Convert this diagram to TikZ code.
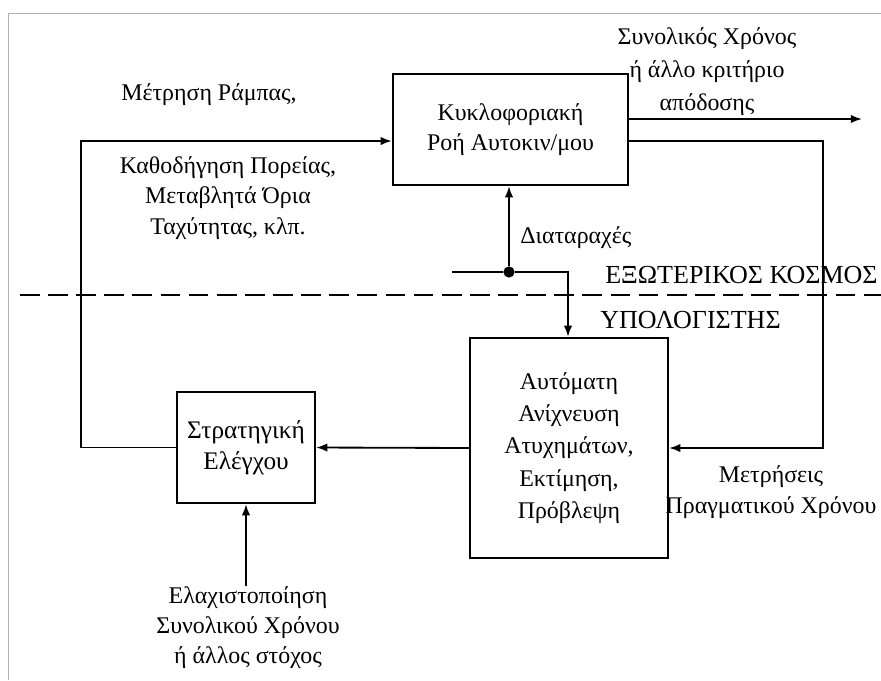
\documentclass[tikz,border=0pt]{standalone}
\usepackage{fontspec}
\setmainfont{Liberation Serif}
\usepackage{tikz}
\usetikzlibrary{arrows.meta,positioning,calc}
\tikzset{
    >={Latex[length=8pt,width=6pt]},
    box/.style={
        rectangle,
        draw, line width=1.6pt,
        align=center,
        inner sep=0pt
    },
    line/.style={draw, line width=1.3pt, ->},
    plain/.style={draw, line width=1.3pt},
    circ/.style={fill, circle, inner sep=0, minimum size=8pt},
    label/.style={inner sep=0pt, align=center},
    caps/.style={label, font={\fontsize{18.5}{22}\selectfont}},
    font={\fontsize{17}{21.5}\selectfont},
}

\begin{document}
\begin{tikzpicture}[x=0.025cm, y=-0.025cm]
        \useasboundingbox (0, 0) rectangle (881, 680);
        % thin frame of the screenshot
        \draw [black!30, line width=0.6pt] (8, 680) -- (8, 13) -- (881, 13);

        % blocks
        \node [box, minimum width=5.875cm, minimum height=2.775cm] (flow) at (510.5, 129.5)
            {Κυκλοφοριακή\\Ροή Αυτοκιν/μου};
        \node [box, minimum width=4.95cm, minimum height=5.5cm, font={\fontsize{17}{23}\selectfont}] (estim) at (569, 448)
            {Αυτόματη\\Ανίχνευση\\Ατυχημάτων,\\Εκτίμηση,\\Πρόβλεψη};
        \node [box, minimum width=3.45cm, minimum height=2.775cm, font={\fontsize{18}{22}\selectfont}] (strat) at (246, 447.5)
            {Στρατηγική\\Ελέγχου};

        % texts
        \node [label, anchor=west] (ramp) at (121, 95) {Μέτρηση Ράμπας,};
        \node [label] (guide) at (228, 198) {Καθοδήγηση Πορείας,\\Μεταβλητά Όρια\\Ταχύτητας, κλπ.};
        \node [label, font={\fontsize{17}{23.5}\selectfont}] (perf) at (707, 72) {Συνολικός Χρόνος\\ή άλλο κριτήριο\\απόδοσης};
        \node [label, anchor=west] (dist) at (520, 238) {Διαταραχές};
        \node [caps, anchor=west] (outside) at (605, 275) {ΕΞΩΤΕΡΙΚΟΣ ΚΟΣΜΟΣ};
        \node [caps, anchor=west] (comp) at (600, 320) {ΥΠΟΛΟΓΙΣΤΗΣ};
        \node [label] (meas) at (771, 492) {Μετρήσεις\\Πραγματικού Χρόνου};
        \node [label, anchor=north] (goal) at (248, 586) {Ελαχιστοποίηση\\Συνολικού Χρόνου\\ή άλλος στόχος};

        % corners and free ends
        \coordinate (out) at (862, 119);
        \coordinate (fb) at (823, 141);
        \coordinate (lc) at (81, 141);
        \coordinate (dstart) at (452, 272);
        \coordinate (dturn) at (568, 272);
        \node [circ] (junc) at (509, 272) {};
        \coordinate (dl) at (20, 295);
        \coordinate (dr) at (881, 295);

        % boundary
        \draw [line width=1.1pt, dash pattern=on 14pt off 6pt] (dl) -- (dr);

        % connectors
        \draw [line] (flow.east |- out) -- (out);
        \draw [line] (flow.east |- fb) -- (fb) |- (estim.east);
        \draw [line] (estim.west) -- (strat.east);
        \draw [line] (strat.west) -| (lc) -- (flow.west |- lc);
        \draw [line] (goal.north -| strat.south) -- (strat.south);
        \draw [plain] (dstart) -- (junc);
        \draw [line] (junc) -- (junc |- flow.south);
        \draw [line] (junc) -- (dturn) -- (dturn |- estim.north);
      \end{tikzpicture}
\end{document}
